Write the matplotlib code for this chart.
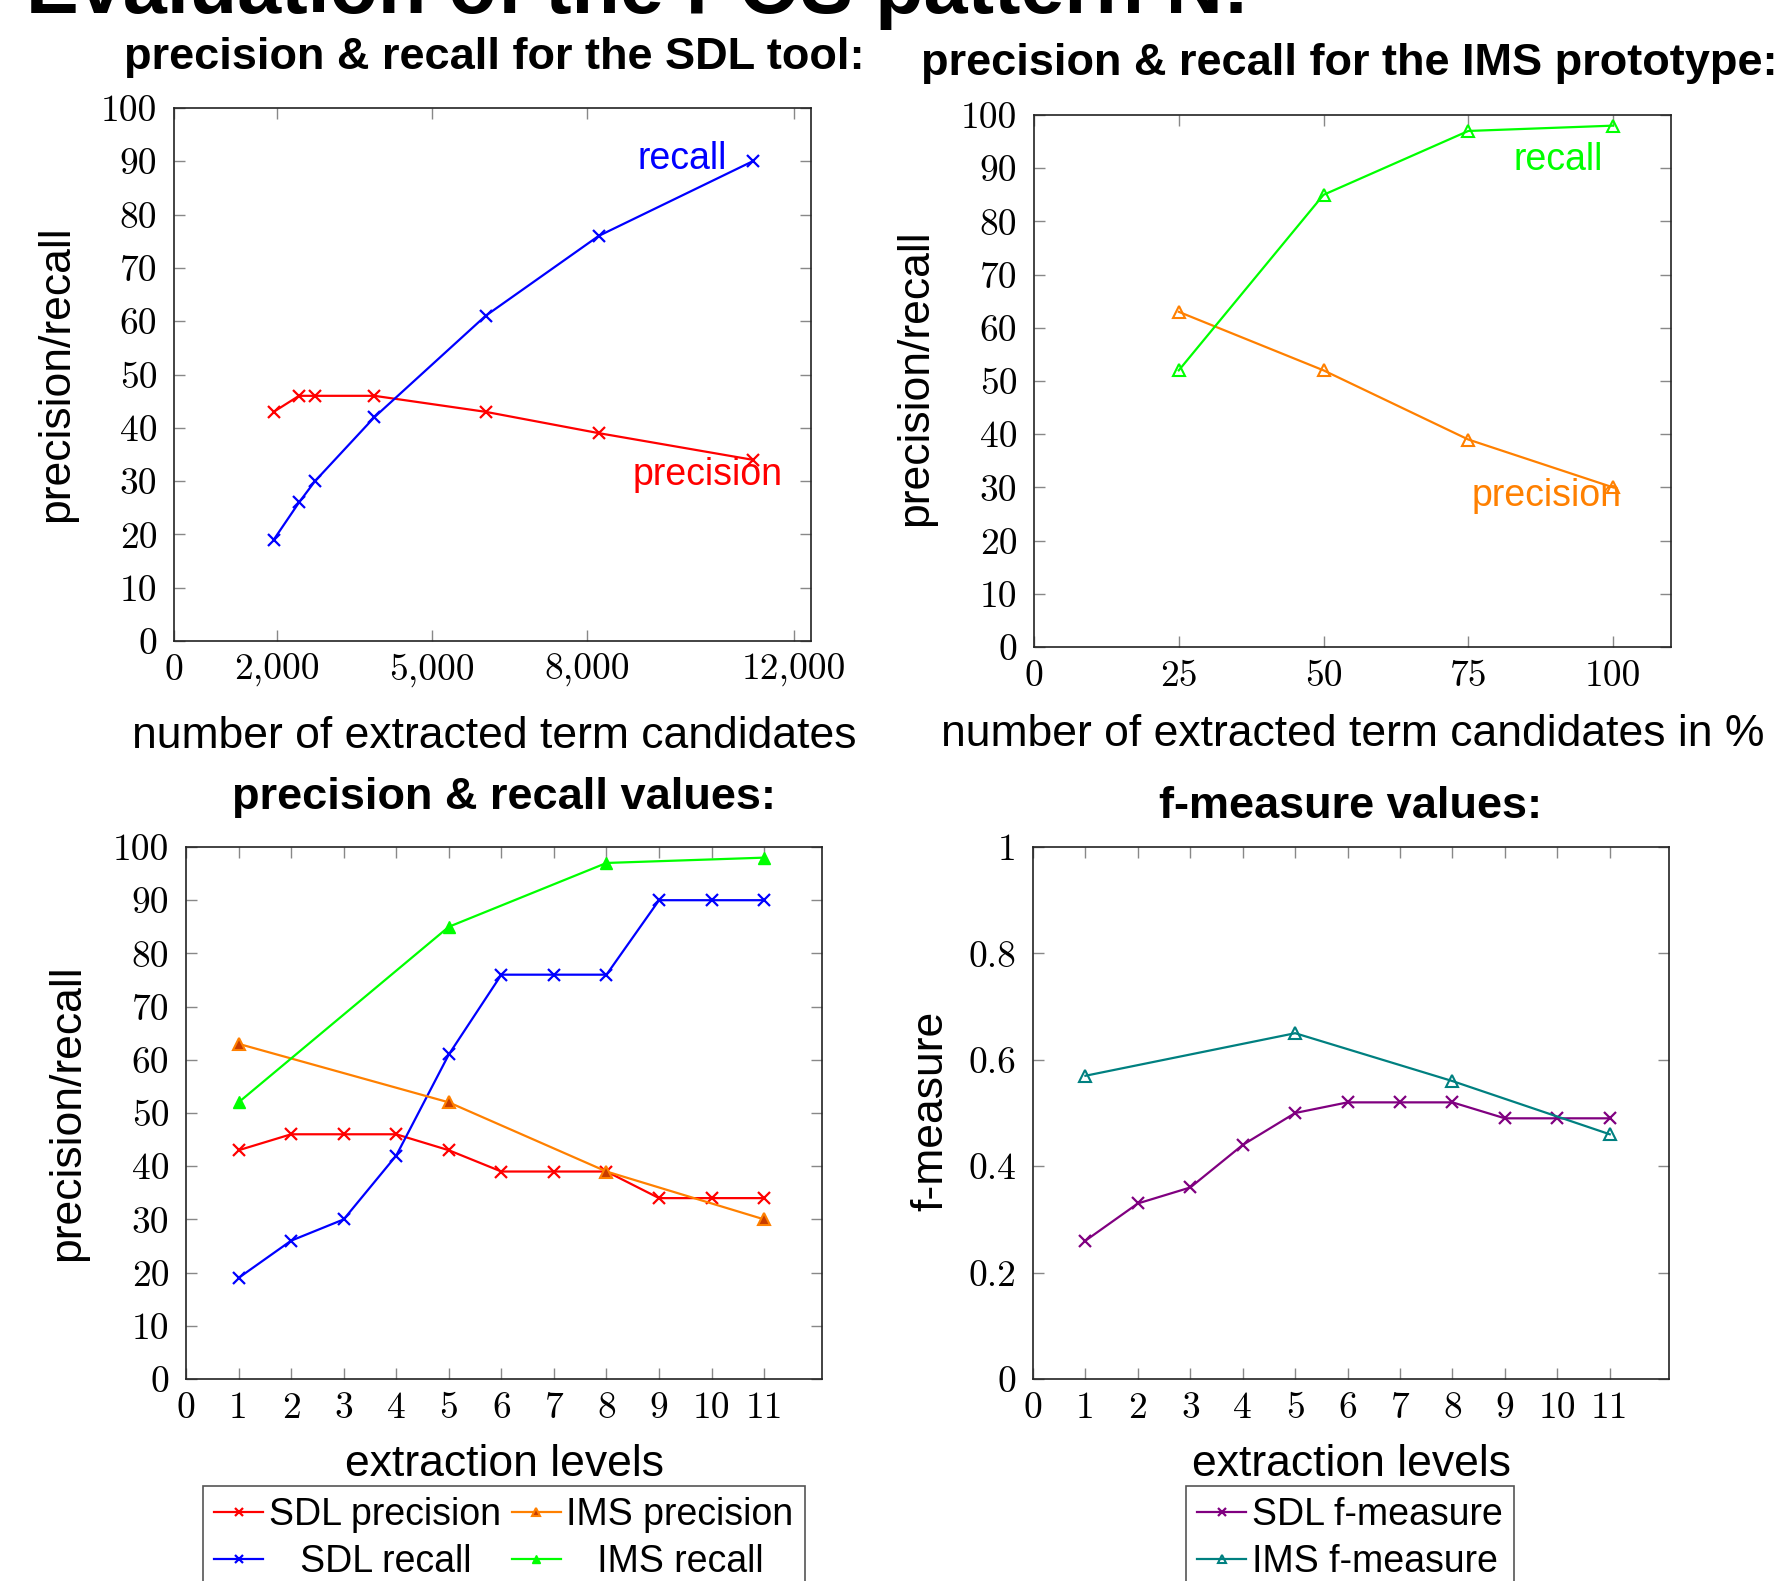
import numpy as np
import matplotlib
matplotlib.use("Agg")
import matplotlib.pyplot as plt

plt.rcParams['font.family'] = ['Liberation Sans', 'DejaVu Sans']

# ---- data ----
sdl_cand = [1930, 2420, 2730, 3880, 6030, 8220, 11200]
sdl_prec = [43, 46, 46, 46, 43, 39, 34]
sdl_rec = [19, 26, 30, 42, 61, 76, 90]

ims_pct = [25, 50, 75, 100]
ims_prec = [63, 52, 39, 30]
ims_rec = [52, 85, 97, 98]

levels = [1, 2, 3, 4, 5, 6, 7, 8, 9, 10, 11]
sdl_prec_lv = [43, 46, 46, 46, 43, 39, 39, 39, 34, 34, 34]
sdl_rec_lv = [19, 26, 30, 42, 61, 76, 76, 76, 90, 90, 90]
ims_levels = [1, 5, 8, 11]
ims_prec_lv = [63, 52, 39, 30]
ims_rec_lv = [52, 85, 97, 98]

sdl_f = [0.26, 0.33, 0.36, 0.44, 0.50, 0.52, 0.52, 0.52, 0.49, 0.49, 0.49]
ims_f = [0.57, 0.65, 0.56, 0.46]

sdl_xticks = [0, 2000, 5000, 8000, 12000]
sdl_xlabels = ['0', '2,000', '5,000', '8,000', '12,000']
pct_xticks = [0, 25, 50, 75, 100]
pr_yticks = list(range(0, 101, 10))
f_yticks = [0, 0.2, 0.4, 0.6, 0.8, 1]
f_ylabels = ['0', '0.2', '0.4', '0.6', '0.8', '1']

W, H = 1785, 1581
def fx(p):
    return p / W
def fy(p):
    return 1 - p / H

RED = (1, 0, 0)
BLUE = (0, 0, 1)
GREEN = (0, 1, 0)
ORANGE = (1, 0.5, 0)
PURPLE = (0.5, 0, 0.5)
TEAL = (0, 0.5, 0.5)

fig = plt.figure(figsize=(W / 100, H / 100), dpi=100)

def make_ax(l, r, t, b):
    ax = fig.add_axes([fx(l), fy(b), (r - l) / W, (b - t) / H])
    ax.tick_params(direction='in', length=8, width=1, color='#888888',
                   top=True, right=True, labelsize=27, pad=9)
    ax.tick_params(axis='y', pad=12)
    for s in ax.spines.values():
        s.set_linewidth(1.2)
        s.set_color('#222222')
    return ax

def serif_ticks(ax):
    for lab in ax.get_xticklabels() + ax.get_yticklabels():
        lab.set_family('cmr10')

lw = 1.6
ms = 8

# top left: SDL tool
ax1 = make_ax(174, 811, 108, 641)
ax1.plot(sdl_cand, sdl_prec, color=RED, lw=lw, marker='x', ms=ms, mew=1.6)
ax1.plot(sdl_cand, sdl_rec, color=BLUE, lw=lw, marker='x', ms=ms, mew=1.6)
ax1.set_xlim(0, 12330)
ax1.set_ylim(0, 100)
ax1.set_xticks(sdl_xticks)
ax1.set_xticklabels(sdl_xlabels)
ax1.set_yticks(pr_yticks)
serif_ticks(ax1)
ax1.text(10700, 90.5, 'recall', color=BLUE, fontsize=27, ha='right', va='center')
ax1.text(11790, 31.2, 'precision', color=RED, fontsize=27, ha='right', va='center')

# top right: IMS prototype
ax2 = make_ax(1034, 1671, 115, 647)
ax2.plot(ims_pct, ims_prec, color=ORANGE, lw=lw, marker='^', ms=ms, mfc='none', mew=1.5)
ax2.plot(ims_pct, ims_rec, color=GREEN, lw=lw, marker='^', ms=ms, mfc='none', mew=1.5)
ax2.set_xlim(0, 110)
ax2.set_ylim(0, 100)
ax2.set_xticks(pct_xticks)
ax2.set_yticks(pr_yticks)
serif_ticks(ax2)
ax2.text(98.2, 91.6, 'recall', color=GREEN, fontsize=27, ha='right', va='center')
ax2.text(101.4, 28.3, 'precision', color=ORANGE, fontsize=27, ha='right', va='center')

# bottom left: precision & recall values
# (leading spaces centre the shorter labels like the original legend)
ax3 = make_ax(186, 822, 847, 1379)
h1, = ax3.plot(levels, sdl_prec_lv, color=RED, lw=lw, marker='x', ms=ms, mew=1.6,
               label='SDL precision')
h2, = ax3.plot(levels, sdl_rec_lv, color=BLUE, lw=lw, marker='x', ms=ms, mew=1.6,
               label='   SDL recall')
h3, = ax3.plot(ims_levels, ims_prec_lv, color=ORANGE, lw=lw, marker='^', ms=ms + 1,
               mfc='#c83c00', mec=ORANGE, mew=1.5, label='IMS precision')
h4, = ax3.plot(ims_levels, ims_rec_lv, color=GREEN, lw=lw, marker='^', ms=ms + 1,
               mfc=GREEN, mec=GREEN, label='   IMS recall')
ax3.set_xlim(0, 12.1)
ax3.set_ylim(0, 100)
ax3.set_xticks(range(0, 12))
ax3.set_yticks(pr_yticks)
serif_ticks(ax3)

# bottom right: f-measure
ax4 = make_ax(1033, 1669, 847, 1379)
g1, = ax4.plot(levels, sdl_f, color=PURPLE, lw=lw, marker='x', ms=ms, mew=1.6,
               label='SDL f-measure')
g2, = ax4.plot(ims_levels, ims_f, color=TEAL, lw=lw, marker='^', ms=ms, mfc='none', mew=1.5,
               label='IMS f-measure')
ax4.set_xlim(0, 12.13)
ax4.set_ylim(0, 1)
ax4.set_xticks(range(0, 12))
ax4.set_yticks(f_yticks)
ax4.set_yticklabels(f_ylabels)
serif_ticks(ax4)

# titles and labels
fig.text(fx(26), fy(13), 'Evaluation of the POS pattern N:', fontsize=57,
         fontweight='bold', ha='left', va='baseline')
tkw = dict(fontsize=32.5, fontweight='bold', ha='center', va='center')
fig.text(fx(494), fy(58), 'precision & recall for the SDL tool:', **tkw)
fig.text(fx(1349), fy(63), 'precision & recall for the IMS prototype:', **tkw)
fig.text(fx(504), fy(797), 'precision & recall values:', **tkw)
fig.text(fx(1351), fy(806), 'f-measure values:', **tkw)

lkw = dict(fontsize=32, ha='center', va='center')
fig.text(fx(494), fy(736), 'number of extracted term candidates', **lkw)
fig.text(fx(1353), fy(734), 'number of extracted term candidates in %', **lkw)
fig.text(fx(504), fy(1465), 'extraction levels', **lkw)
fig.text(fx(1351), fy(1465), 'extraction levels', **lkw)
fig.text(fx(57), fy(374), 'precision/recall', rotation=90, **lkw)
fig.text(fx(916), fy(378), 'precision/recall', rotation=90, **lkw)
fig.text(fx(68), fy(1113), 'precision/recall', rotation=90, **lkw)
fig.text(fx(931), fy(1111), 'f-measure', rotation=90, **lkw)

legkw = dict(fontsize=27, loc='upper center', fancybox=False, framealpha=1,
             edgecolor='#555555', handlelength=1.3, handletextpad=0.15,
             columnspacing=0.3, labelspacing=0.3, borderpad=0.3,
             borderaxespad=0, markerscale=0.7,
             bbox_transform=fig.transFigure)
leg1 = fig.legend(handles=[h1, h2, h3, h4], ncol=2,
                  bbox_to_anchor=(fx(504), fy(1486)), **legkw)
leg2 = fig.legend(handles=[g1, g2], ncol=1,
                  bbox_to_anchor=(fx(1350), fy(1486)), **legkw)
for lg in (leg1, leg2):
    lg.get_frame().set_linewidth(1.2)

fig.savefig('out.png', dpi=100)
